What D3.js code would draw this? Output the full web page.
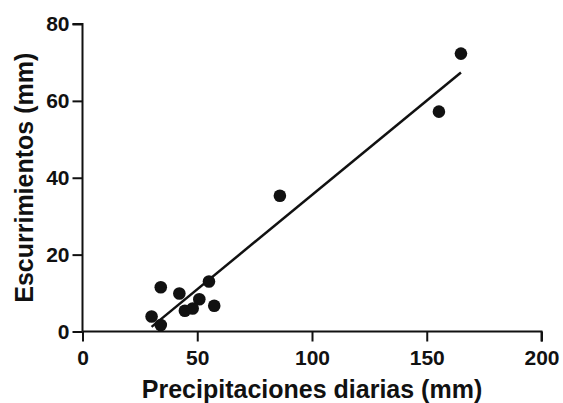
<!doctype html>
<html>
<head>
<meta charset="UTF-8" />
<script src="https://d3js.org/d3.v7.min.js"></script>
<style>
  body { margin: 0; background: #fff; }
  svg text { font-family: "Liberation Sans", Arial, sans-serif; font-weight: bold; fill: #111; }
</style>
</head>
<body>
<svg id="chart" width="563" height="403"></svg>
<script>
// daily rainfall (mm) vs runoff (mm)
const precipitacion = [164.9, 155.3, 86.0, 34.1, 42.2, 55.1, 50.9, 57.4, 30.1, 34.1, 44.6, 48.0];
const escurrimiento = [72.3, 57.2, 35.3, 11.5, 9.9, 13.0, 8.4, 6.7, 3.9, 1.7, 5.4, 6.0];
const xTicks = [0, 50, 100, 150, 200];
const yTicks = [0, 20, 40, 60, 80];
const xTitle = "Precipitaciones diarias (mm)";
const yTitle = "Escurrimientos (mm)";

const svg = d3.select("#chart");
const x = d3.scaleLinear().domain([0, 200]).range([82.5, 541.5]);
const y = d3.scaleLinear().domain([0, 80]).range([331.5, 24]);

const pts = precipitacion.map((p, i) => ({x: p, y: escurrimiento[i]}));

// least squares fit
const mx = d3.mean(pts, d => d.x), my = d3.mean(pts, d => d.y);
const slope = d3.sum(pts, d => (d.x - mx) * (d.y - my)) / d3.sum(pts, d => (d.x - mx) * (d.x - mx));
const icept = my - slope * mx;
const x0 = d3.min(precipitacion), x1 = d3.max(precipitacion);

const xAxis = svg.append("g")
  .attr("transform", "translate(0," + y(0) + ")")
  .call(d3.axisBottom(x).tickValues(xTicks).tickSize(10).tickPadding(9).tickFormat(d3.format("d")));
const yAxis = svg.append("g")
  .attr("transform", "translate(" + x(0) + ",0)")
  .call(d3.axisLeft(y).tickValues(yTicks).tickSize(10).tickPadding(3).tickFormat(d3.format("d")));

[xAxis, yAxis].forEach(a => {
  a.select(".domain").attr("stroke", "#111").attr("stroke-width", 2);
  a.selectAll(".tick line").attr("stroke", "#111").attr("stroke-width", 2);
  a.selectAll(".tick text").style("font-size", "21px").style("font-family", "Liberation Sans, Arial, sans-serif").style("font-weight", "bold").attr("fill", "#111");
});
xAxis.select(".domain").attr("d", "M" + x(0) + ",0H" + x(200) + "V10");
yAxis.select(".domain").attr("d", "M-10," + y(80) + "H0V" + y(0));

svg.append("line")
  .attr("x1", x(x0)).attr("y1", y(icept + slope * x0))
  .attr("x2", x(x1)).attr("y2", y(icept + slope * x1))
  .attr("stroke", "#111").attr("stroke-width", 2.5);

svg.append("g").selectAll("circle")
  .data(pts)
  .enter().append("circle")
  .attr("cx", d => x(d.x))
  .attr("cy", d => y(d.y))
  .attr("r", 6.3)
  .attr("fill", "#111");

svg.append("text")
  .attr("x", (x(0) + x(200)) / 2)
  .attr("y", 398)
  .attr("text-anchor", "middle")
  .style("font-size", "25px")
  .text(xTitle);

svg.append("text")
  .attr("transform", "translate(33," + (y(0) + y(80)) / 2 + ") rotate(-90)")
  .attr("text-anchor", "middle")
  .style("font-size", "25px")
  .text(yTitle);
</script>
</body>
</html>
